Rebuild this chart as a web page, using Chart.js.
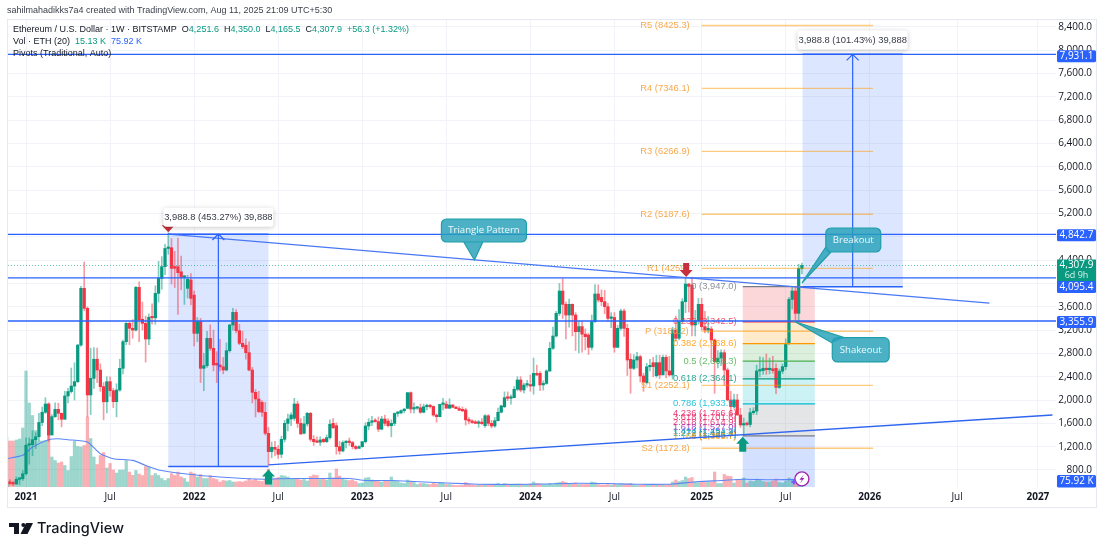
<!DOCTYPE html>
<html><head><meta charset="utf-8">
<script src="https://cdn.jsdelivr.net/npm/chart.js@4"></script>
<style>html,body{margin:0;padding:0;background:#fff}canvas{display:block}</style>
</head><body><canvas id="c" width="1105" height="550"></canvas>
<script>
// Weeks are counted from the first bar of 2021; the first candle is week -6.
const firstWeek = -6;
const opens = [
510,590,570,560,640,650,735,1225,1235,1320,
1370,1615,1790,1932,1400,1715,1840,1772,1670,2070,
2145,2240,2315,2944,3916,3573,2087,2373,2700,2515,
2230,1970,2315,2160,1972,2172,2544,3001,3316,3230,
3200,3933,3385,3316,3047,3420,3410,3830,4087,4288,
4600,4613,4290,4288,4200,4105,3916,4060,3800,3144,
3344,2544,2590,3058,2887,2630,2601,2570,2515,2847,
3287,3504,3190,2973,2940,2813,2515,2132,2018,1960,
1790,1429,1115,1189,1155,1069,1326,1600,1675,1686,
1932,1600,1430,1590,1772,1326,1286,1275,1326,1286,
1355,1600,1560,1200,1126,1270,1286,1270,1200,1170,
1200,1286,1555,1618,1636,1630,1500,1675,1640,1560,
1600,1770,1780,1818,1858,2126,1846,1860,1868,1790,
1885,1910,1890,1742,1715,1925,1930,1860,1915,1875,
1853,1825,1830,1660,1640,1615,1600,1610,1560,1730,
1600,1555,1646,1790,1885,2040,2030,2040,2184,2344,
2172,2257,2262,2241,2458,2458,2260,2285,2498,2887,
3098,3487,3870,3642,3459,3642,3459,3173,3260,3130,
3116,2904,3344,3819,3760,3687,3601,3401,3416,2904,
3230,3527,3230,2698,2544,2687,2744,2413,2298,2570,
2641,2418,2641,2430,2733,2500,2430,3201,3060,3344,
3687,3990,3973,3287,3360,3642,3258,3201,3218,3030,
2660,2720,2812,2515,2001,1887,2001,1743,1572,1590,
1580,1783,1810,2498,2505,2545,2520,2535,2544,2218,
2495,2573,2973,3727,3870,3487,4251.6];
const highs = [
620,635,600,680,665,790,1350,1350,1475,1440,
1770,1880,2040,1955,1750,1950,1945,1780,2150,2200,
2550,2640,2950,3950,4368,3600,2890,2900,2890,2620,
2300,2400,2400,2200,2280,2700,3030,3330,3340,3380,
3950,4030,3680,3440,3480,3650,3960,4380,4460,4670,
4868,4770,4550,4780,4470,4130,4140,4170,3870,3415,
3400,2800,3180,3290,3200,2830,3040,2730,2980,3300,
3573,3550,3300,3180,3050,3000,2560,2180,2150,1990,
1960,1530,1280,1290,1220,1380,1650,1760,1780,2030,
1980,1680,1720,1790,1790,1390,1370,1370,1340,1400,
1660,1680,1610,1290,1300,1300,1350,1290,1220,1220,
1290,1610,1680,1720,1680,1710,1720,1740,1680,1660,
1780,1800,1830,1860,2130,2140,1950,1880,1930,1930,
1930,1925,1900,1760,1930,2030,1980,2020,1920,1890,
1890,1880,1860,1700,1660,1650,1650,1680,1750,1750,
1650,1700,1860,1910,2140,2140,2090,2230,2400,2400,
2290,2340,2430,2720,2600,2490,2330,2520,2990,3250,
3520,4000,4085,3680,3730,3650,3500,3350,3350,3220,
3150,3460,3980,3975,3890,3880,3660,3500,3500,3280,
3560,3560,3300,2790,2780,2820,2770,2460,2630,2700,
2730,2770,2770,2770,2770,2750,3250,3440,3550,3740,
4090,4000,4110,3540,3745,3745,3520,3430,3260,3050,
2850,2860,2860,2550,2150,2100,2100,1860,1690,1620,
1860,1870,2600,2740,2730,2790,2720,2750,2620,2530,
2620,3050,3760,3940,3940,4330,4350];
const lows = [
480,545,530,550,550,620,715,900,1045,1165,
1300,1560,1770,1290,1400,1700,1660,1540,1670,1950,
2120,2000,2300,2920,3530,1710,1750,2200,2300,2150,
1660,1780,2060,1870,1710,2150,2450,2950,2950,3060,
3180,3000,3200,2650,2950,3300,3300,3680,3900,4150,
4500,3990,3930,3470,3890,3640,3750,3630,2930,3000,
2300,2160,2560,2850,2500,2300,2500,2450,2500,2820,
3200,3150,2950,2880,2700,2500,1950,1710,1780,1720,
1400,880,1010,1040,1000,1010,1280,1470,1560,1650,
1530,1410,1420,1550,1290,1220,1270,1220,1270,1270,
1330,1510,1070,1070,1110,1180,1220,1160,1150,1180,
1190,1260,1490,1560,1620,1460,1490,1560,1540,1370,
1560,1720,1760,1780,1850,1780,1780,1840,1770,1780,
1830,1860,1720,1620,1710,1830,1860,1850,1870,1850,
1820,1800,1570,1590,1600,1600,1530,1580,1530,1560,
1520,1530,1640,1780,1870,1990,1930,2040,2160,2140,
2120,2220,2150,2100,2420,2160,2170,2270,2490,2870,
3080,3450,3400,3050,3250,3100,2850,2810,2820,2860,
2780,2860,3330,3680,3620,3480,3360,3240,2820,2900,
3200,3090,2420,2115,2520,2550,2310,2150,2270,2500,
2400,2390,2370,2440,2380,2410,2360,3010,3030,3340,
3500,3510,3100,3100,3300,3200,3150,3150,2720,2115,
2550,2590,2250,1990,1760,1860,1740,1530,1385,1560,
1540,1750,1750,2400,2440,2440,2450,2460,2110,2200,
2450,2520,2950,3560,3340,3360,4165.5];
const closes = [
575,570,560,640,650,735,1225,1235,1320,1370,
1615,1790,1932,1400,1715,1840,1772,1670,2070,2145,
2240,2315,2944,3916,3573,2087,2373,2700,2515,2230,
1970,2315,2160,1972,2172,2544,3001,3316,3230,3200,
3933,3373,3316,3047,3420,3410,3830,4087,4288,4600,
4613,4259,4259,4185,4105,4110,4070,3744,3144,3344,
2544,2590,3058,2887,2601,2601,2570,2515,2847,3287,
3504,3190,2973,2915,2813,2515,2132,2018,1801,1790,
1429,1115,1189,1155,1069,1326,1600,1675,1743,1932,
1600,1418,1590,1772,1326,1286,1275,1315,1286,1355,
1584,1525,1200,1126,1270,1286,1270,1200,1170,1200,
1286,1555,1618,1636,1630,1500,1675,1600,1560,1600,
1770,1780,1818,1840,2126,1846,1860,1868,1790,1885,
1910,1885,1742,1715,1925,1930,1860,1915,1875,1853,
1825,1815,1660,1640,1615,1600,1610,1595,1730,1600,
1555,1646,1790,1900,2040,2030,2040,2184,2344,2172,
2257,2262,2240,2458,2430,2260,2285,2498,2887,3098,
3487,3870,3642,3459,3642,3459,3173,3260,3130,3087,
2904,3344,3819,3716,3687,3601,3401,3416,2904,3230,
3527,3230,2687,2544,2687,2744,2413,2298,2570,2575,
2572,2641,2430,2733,2500,2430,3201,3060,3344,3687,
3990,3950,3287,3360,3642,3258,3201,3230,3030,2660,
2720,2812,2515,2001,1887,2001,1743,1572,1590,1580,
1783,1810,2498,2505,2545,2520,2535,2505,2218,2495,
2573,2973,3727,3870,3487,4259,4307.9];
const volumes = [
500,460,460,470,480,590,1160,840,715,565,
460,460,465,830,300,265,240,250,215,165,
305,460,405,400,415,700,485,300,225,315,
345,190,235,170,140,170,170,265,150,117,
165,130,115,205,200,115,135,115,85,65,
85,135,115,150,100,85,50,150,135,100,
125,85,85,115,85,75,50,65,60,65,
50,50,55,50,60,85,65,75,60,55,
75,180,100,85,95,115,110,100,80,85,
85,70,75,60,105,120,115,75,80,70,
140,90,180,110,85,70,65,70,55,35,
40,90,95,70,60,55,50,60,65,100,
60,55,40,35,70,60,45,25,35,35,
30,25,40,30,45,40,25,25,20,15,
15,15,45,30,20,15,20,20,25,20,
20,20,35,25,35,30,30,30,30,30,
25,25,30,50,35,30,25,25,35,25,
40,45,55,45,30,30,40,25,25,25,
25,50,45,25,20,20,25,20,30,25,
25,25,25,35,20,15,20,20,25,20,
20,20,20,20,20,25,50,70,55,65,
100,85,95,50,45,50,45,50,50,150,
35,35,125,110,105,40,70,75,90,40,
60,55,80,70,55,50,50,60,80,45,
40,60,90,70,65,50,15.13];
const volMaWeeks = [-6,-1,2,7,10,13,19,23,27,33,37,41,49,60,74,78,90,100,105,113,120,130,140,150,160,170,180,190,200,208,215,222,230,240];
const volMaValues = [283,317,400,473,483,473,450,333,283,266,216,170,133,100,77,83,85,85,65,65,55,40,28,25,30,38,35,27,30,55,65,78,72,75.92];

const xTickWeeks = [0,26,52,78,104,130,156,182,209,235,261,288,313];
const xTickLabels = ['2021','Jul','2022','Jul','2023','Jul','2024','Jul','2025','Jul','2026','Jul','2027'];
const priceTicks = [800,1200,1600,2000,2400,2800,3200,3600,4000,4400,4800,5200,5600,6000,6400,6800,7200,7600,8000,8400];

const horizontalLevels = [7931.1,4842.7,4095.4,3355.9];
const lastPrice = 4307.9;
const pivotLabels = ['R5 (8425.3)','R4 (7346.1)','R3 (6266.9)','R2 (5187.6)','R1 (4259','P (3180.2)','S1 (2252.1)','S2 (1172.8)'];
const pivotPrices = [8425.3,7346.1,6266.9,5187.6,4259,3180.2,2252.1,1172.8];
const fibLabels = ['0 (3,947.0)','0.236 (3,342.5)','0.382 (2,968.6)','0.5 (2,666.3)','0.618 (2,364.1)','0.786 (1,933.9)','1 (1,385.7)'];
const fibPrices = [3947,3342.5,2968.6,2666.3,2364.1,1933.9,1385.7];
const fibColors = ['#787b86','#f23645','#ff9800','#4caf50','#089981','#00bcd4','#787b86'];
const fibExtLabels = ['4.236 (1,766.6)','3.618 (1,701.6)','2.618 (1,614.9)','1.618 (1,527.0)','1.414 (1,454.9)','1.272 (1,434.4)','1.168 (1,385.7)'];
const fibExtPrices = [1778,1709,1623,1538,1469,1435,1383];
const fibExtColors = ['#e91e63','#e91e63','#e91e63','#9c27b0','#2196f3','#089981','#ff9800'];

const CUP='#089981', CDOWN='#f23645', BLUE='#2962ff';
const FONT='"Open Sans","Noto Sans",sans-serif';
const SMALL='"Liberation Sans",Arial,sans-serif';
const weeks = closes.map((_,i)=>firstWeek+i);
const isUp = i => closes[i]>=opens[i];

const drawings = {
  id:'drawings',
  beforeDatasetsDraw(chart){
    const {ctx,scales:{x,y}}=chart;
    const X=v=>x.getPixelForValue(v), Y=v=>y.getPixelForValue(v);
    ctx.save();
    ctx.fillStyle='rgba(41,98,255,0.16)';
    ctx.fillRect(X(44),Y(4848),X(75)-X(44),Y(859)-Y(4848));
    ctx.fillRect(X(240.2),Y(7931.1),X(271.2)-X(240.2),Y(3942.3)-Y(7931.1));
    ctx.fillStyle='rgba(41,98,255,0.2)';
    ctx.fillRect(X(221.7),Y(1385.7),X(244)-X(221.7),Y(508)-Y(1385.7));
    // fib bands take the colour of the level beneath them
    for(let i=0;i<fibPrices.length-1;i++){
      ctx.globalAlpha=0.2; ctx.fillStyle=fibColors[i+1];
      ctx.fillRect(X(221.7),Y(fibPrices[i]),X(244)-X(221.7),Y(fibPrices[i+1])-Y(fibPrices[i]));
    }
    ctx.globalAlpha=1;
    ctx.restore();
  },
  afterDatasetsDraw(chart){
    const {ctx,chartArea:a,scales:{x,y}}=chart;
    const X=v=>x.getPixelForValue(v), Y=v=>y.getPixelForValue(v);
    ctx.save();
    ctx.beginPath();ctx.rect(a.left,a.top,a.right-a.left,a.bottom-a.top);ctx.clip();
    const line=(x1,y1,x2,y2,c,w)=>{ctx.strokeStyle=c;ctx.lineWidth=w;ctx.beginPath();ctx.moveTo(x1,y1);ctx.lineTo(x2,y2);ctx.stroke();};
    ctx.font='9.4px '+SMALL;ctx.textBaseline='middle';
    pivotPrices.forEach((p,i)=>{
      line(X(209),Y(p),X(262),Y(p),'rgba(255,152,0,0.5)',1.3);
      ctx.textAlign='right';ctx.fillStyle='#f7a94d';
      ctx.fillText(pivotLabels[i],i===4?X(204):(i===5?X(205):X(205.3)),Y(p));
    });
    fibPrices.forEach((p,i)=>{
      line(X(221.7),Y(p),X(244),Y(p),fibColors[i],1.3);
      ctx.textAlign='right';ctx.fillStyle=fibColors[i];ctx.globalAlpha=0.85;
      ctx.fillText(fibLabels[i],X(219.8),Y(p));ctx.globalAlpha=1;
    });
    fibExtPrices.forEach((p,i)=>{
      ctx.textAlign='right';ctx.fillStyle=fibExtColors[i];ctx.globalAlpha=0.85;
      ctx.fillText(fibExtLabels[i],X(219.8),Y(p));ctx.globalAlpha=1;
    });
    ctx.setLineDash([1,2]);line(a.left,Y(lastPrice),a.right,Y(lastPrice),'rgba(8,153,129,0.6)',1);ctx.setLineDash([]);
    horizontalLevels.forEach(p=>line(a.left,Y(p),a.right,Y(p),BLUE,1.3));
    line(X(44),Y(4848),X(298),Y(3664),'#4a78f5',1.3);
    line(X(75),Y(886),X(317.5),Y(1743),'#2f66f0',1.3);
    const arrow=(w,p1,p2)=>{const xx=X(w),y1=Y(p1),y2=Y(p2);
      line(xx,y1,xx,y2,BLUE,1.2);line(xx-6,y2+6,xx,y2,BLUE,1.2);line(xx+6,y2+6,xx,y2,BLUE,1.2);};
    line(X(44),Y(859),X(75),Y(859),BLUE,1.5);line(X(44),Y(4848),X(75),Y(4848),BLUE,1.2);
    arrow(59.5,859,4848);
    line(X(240.2),Y(3942.3),X(271.2),Y(3942.3),BLUE,1.5);line(X(240.2),Y(7931.1),X(271.2),Y(7931.1),BLUE,1.5);
    arrow(255.7,3942.3,7931.1);
    const down=(w,p,c)=>{const xx=X(w),yy=Y(p);ctx.fillStyle=c;ctx.beginPath();
      ctx.moveTo(xx,yy);ctx.lineTo(xx-6.5,yy-7);ctx.lineTo(xx-3,yy-7);ctx.lineTo(xx-3,yy-14);ctx.lineTo(xx+3,yy-14);ctx.lineTo(xx+3,yy-7);ctx.lineTo(xx+6.5,yy-7);ctx.closePath();ctx.fill();};
    const up=(w,p,c)=>{const xx=X(w),yy=Y(p);ctx.fillStyle=c;ctx.beginPath();
      ctx.moveTo(xx,yy);ctx.lineTo(xx-6.5,yy+7);ctx.lineTo(xx-3.5,yy+7);ctx.lineTo(xx-3.5,yy+15);ctx.lineTo(xx+3.5,yy+15);ctx.lineTo(xx+3.5,yy+7);ctx.lineTo(xx+6.5,yy+7);ctx.closePath();ctx.fill();};
    down(44,4880,'#c62f3d');down(204.2,4111,'#c62f3d');
    up(75,810,CUP);up(221.7,1370,CUP);
    const rr=(l,t,w,h,r)=>{ctx.beginPath();ctx.roundRect(l,t,w,h,r);};
    const infoBox=(w,p,txt)=>{const cx=X(w),cy=Y(p);ctx.save();
      ctx.shadowColor='rgba(0,0,0,0.22)';ctx.shadowBlur=5;ctx.shadowOffsetY=1;ctx.fillStyle='#fff';rr(cx-55,cy-9.5,110,19,3);ctx.fill();ctx.restore();
      ctx.fillStyle='#363a45';ctx.font='9.4px '+SMALL;ctx.textAlign='center';ctx.fillText(txt,cx,cy);};
    infoBox(59.5,5135,'3,988.8 (453.27%) 39,888');
    infoBox(255.7,8177,'3,988.8 (101.43%) 39,888');
    const callout=(w1,p1,w2,p2,tip,b1,b2,txt)=>{
      const l=X(w1),t=Y(p1),r=X(w2),bt=Y(p2);
      ctx.fillStyle='rgba(38,160,185,0.82)';ctx.strokeStyle='#1f9fa8';ctx.lineWidth=1.2;
      rr(l,t,r-l,bt-t,5);ctx.fill();ctx.stroke();
      ctx.beginPath();ctx.moveTo(X(b1[0]),Y(b1[1]));ctx.lineTo(X(tip[0]),Y(tip[1]));ctx.lineTo(X(b2[0]),Y(b2[1]));ctx.closePath();ctx.fill();
      ctx.beginPath();ctx.moveTo(X(b1[0]),Y(b1[1]));ctx.lineTo(X(tip[0]),Y(tip[1]));ctx.lineTo(X(b2[0]),Y(b2[1]));ctx.stroke();
      ctx.fillStyle='#eef9fb';ctx.font='9.6px '+FONT;ctx.textAlign='center';ctx.fillText(txt,(l+r)/2,(t+bt)/2);};
    callout(128.5,5106,154.8,4711,[138.7,4403],[135.4,4711],[141.3,4711],'Triangle Pattern');
    callout(247.4,4951,264.4,4540,[240,4008],[247.4,4626],[249,4540],'Breakout');
    callout(249.4,3070,267,2653,[238.1,3339],[249.4,2979],[253.1,3070],'Shakeout');
    const ix=X(240),iy1=Y(647),iy2=Y(315);
    ctx.strokeStyle='#9c27b0';ctx.lineWidth=1.4;ctx.fillStyle='#fff';
    ctx.beginPath();ctx.arc(ix,iy1,7,0,7);ctx.fill();ctx.stroke();
    ctx.fillStyle='#9c27b0';ctx.beginPath();ctx.moveTo(ix+2,iy1-4.5);ctx.lineTo(ix-2.5,iy1+.8);ctx.lineTo(ix,iy1+.8);ctx.lineTo(ix-2,iy1+4.5);ctx.lineTo(ix+2.5,iy1-.8);ctx.lineTo(ix,iy1-.8);ctx.closePath();ctx.fill();
    ctx.fillStyle='#7e57ff';ctx.fillRect(ix-10.5,iy1+2,5,2);ctx.fillRect(ix-9,iy1+.5,2,5);
    ctx.fillStyle='#fff';ctx.strokeStyle='#f23645';
    ctx.beginPath();ctx.arc(ix,iy2,7,0,7);ctx.fill();
    ctx.fillStyle='#f2606c';ctx.fillRect(ix-6,iy2-1,12,2);ctx.fillRect(ix-5,iy2+3,10,2);
    ctx.fillStyle='#6b8fe8';ctx.fillRect(ix-5.5,iy2-5,5,4);
    ctx.beginPath();ctx.arc(ix,iy2,7,0,7);ctx.stroke();
    ctx.restore();

    ctx.save();
    ctx.strokeStyle='#e6e9ef';ctx.lineWidth=1;ctx.strokeRect(7.5,19.5,1089,488);
    ctx.textBaseline='middle';ctx.textAlign='left';ctx.font='9px '+SMALL;
    ctx.fillStyle='#3b3f4a';ctx.fillText('sahilmahadikks7a4 created with TradingView.com, Aug 11, 2025 21:09 UTC+5:30',7,11);
    let cx=13,segY=30;const seg=(t,c)=>{ctx.fillStyle=c;ctx.fillText(t,cx,segY);cx+=ctx.measureText(t).width;};
    seg('Ethereum / U.S. Dollar · 1W · BITSTAMP  ','#131722');
    ['O4,251.6 ','H4,350.0 ','L4,165.5 ','C4,307.9 '].forEach(s=>{seg(s[0],'#131722');seg(s.slice(1)+' ',CUP);});
    seg('+56.3 (+1.32%)',CUP);
    cx=13;segY=42;seg('Vol · ETH (20)  ','#131722');seg('15.13 K  ',CUP);seg('75.92 K','#2962ff');
    cx=13;segY=54;seg('Pivots (Traditional, Auto)','#131722');
    const tag=(p,off,txt,c)=>{const yy=Y(p)+off;ctx.fillStyle=c;ctx.beginPath();ctx.roundRect(1057,yy-6,39,12,1.5);ctx.fill();
      ctx.fillStyle='#fff';ctx.font='10px '+FONT;ctx.textAlign='center';ctx.fillText(txt,1076.5,yy);};
    ctx.fillStyle=CUP;ctx.fillRect(1057,Y(lastPrice)-6,39,23);
    ctx.fillStyle='#fff';ctx.font='10px '+FONT;ctx.textAlign='center';
    ctx.fillText('4,307.9',1076.5,Y(lastPrice));ctx.font='9px '+FONT;ctx.fillStyle='#d6f0ea';ctx.fillText('6d 9h',1076.5,Y(lastPrice)+10);
    tag(7931.1,2,'7,931.1',BLUE);tag(4842.7,1,'4,842.7',BLUE);tag(4095.4,9,'4,095.4',BLUE);tag(3355.9,1,'3,355.9',BLUE);
    ctx.fillStyle=BLUE;ctx.beginPath();ctx.roundRect(1057,475,39,12.5,1.5);ctx.fill();
    ctx.fillStyle='#fff';ctx.font='10px '+FONT;ctx.fillText('75.92 K',1076.5,481.5);
    ctx.fillStyle='#131722';
    ctx.fillRect(9,523,10,4);ctx.fillRect(14,523,5,11);
    ctx.beginPath();ctx.arc(23.3,525,2,0,7);ctx.fill();
    ctx.beginPath();ctx.moveTo(26,523);ctx.lineTo(33,523);ctx.lineTo(27.5,534);ctx.lineTo(20.5,534);ctx.closePath();ctx.fill();
    ctx.textAlign='left';ctx.font='500 14.5px Inter,'+FONT;ctx.fillText('TradingView',37,529);
    ctx.restore();
  }
};

new Chart(document.getElementById('c'),{
  type:'bar',
  data:{datasets:[
    {type:'line',label:'Vol MA',yAxisID:'y2',order:3,data:volMaWeeks.map((w,i)=>({x:w,y:volMaValues[i]})),borderColor:'#5b86f7',borderWidth:1.1,pointRadius:0,tension:0.2},
    {label:'Volume',yAxisID:'y2',order:4,grouped:false,barThickness:2.6,data:weeks.map((w,i)=>({x:w,y:volumes[i]})),
     backgroundColor:weeks.map((_,i)=>isUp(i)?'rgba(8,153,129,0.4)':'rgba(242,54,69,0.4)')},
    {label:'Wicks',yAxisID:'y',order:2,grouped:false,barThickness:1,data:weeks.map((w,i)=>({x:w,y:[lows[i],highs[i]]})),
     backgroundColor:weeks.map((_,i)=>isUp(i)?'rgba(8,153,129,0.5)':'rgba(242,54,69,0.5)')},
    {label:'Bodies',yAxisID:'y',order:1,grouped:false,barThickness:2.6,minBarLength:1.5,data:weeks.map((w,i)=>({x:w,y:[opens[i],closes[i]]})),
     backgroundColor:weeks.map((_,i)=>isUp(i)?CUP:CDOWN)}
  ]},
  options:{
    responsive:false,animation:false,
    layout:{padding:{left:8,top:19,right:13,bottom:43}},
    plugins:{legend:{display:false},tooltip:{enabled:false}},
    scales:{
      x:{type:'linear',offset:false,min:-5.57,max:318.6,
        grid:{offset:false,color:'#f1f3f8',drawTicks:false},border:{display:false},
        afterBuildTicks(s){s.ticks=xTickWeeks.map(v=>({value:v}));},
        afterFit(s){s.height=20;},
        ticks:{autoSkip:false,maxRotation:0,padding:4,color:'#131722',
          callback:v=>xTickLabels[xTickWeeks.indexOf(v)]||'',
          font:c=>({family:FONT,size:10,weight:(c.tick&&xTickLabels[xTickWeeks.indexOf(c.tick.value)]!=='Jul')?'bold':'normal'})}},
      y:{position:'right',min:508,max:8537,
        grid:{color:'#f1f3f8',drawTicks:false},border:{display:false},
        afterBuildTicks(s){s.ticks=priceTicks.map(v=>({value:v}));},
        afterFit(s){s.width=36;},
        ticks:{padding:3,crossAlign:'far',color:'#131722',font:{family:FONT,size:10},
          callback:v=>v.toLocaleString('en-US',{minimumFractionDigits:1,maximumFractionDigits:1})}},
      y2:{display:false,min:0,max:4680,grid:{display:false}}
    }
  },
  plugins:[drawings]
});
</script></body></html>
